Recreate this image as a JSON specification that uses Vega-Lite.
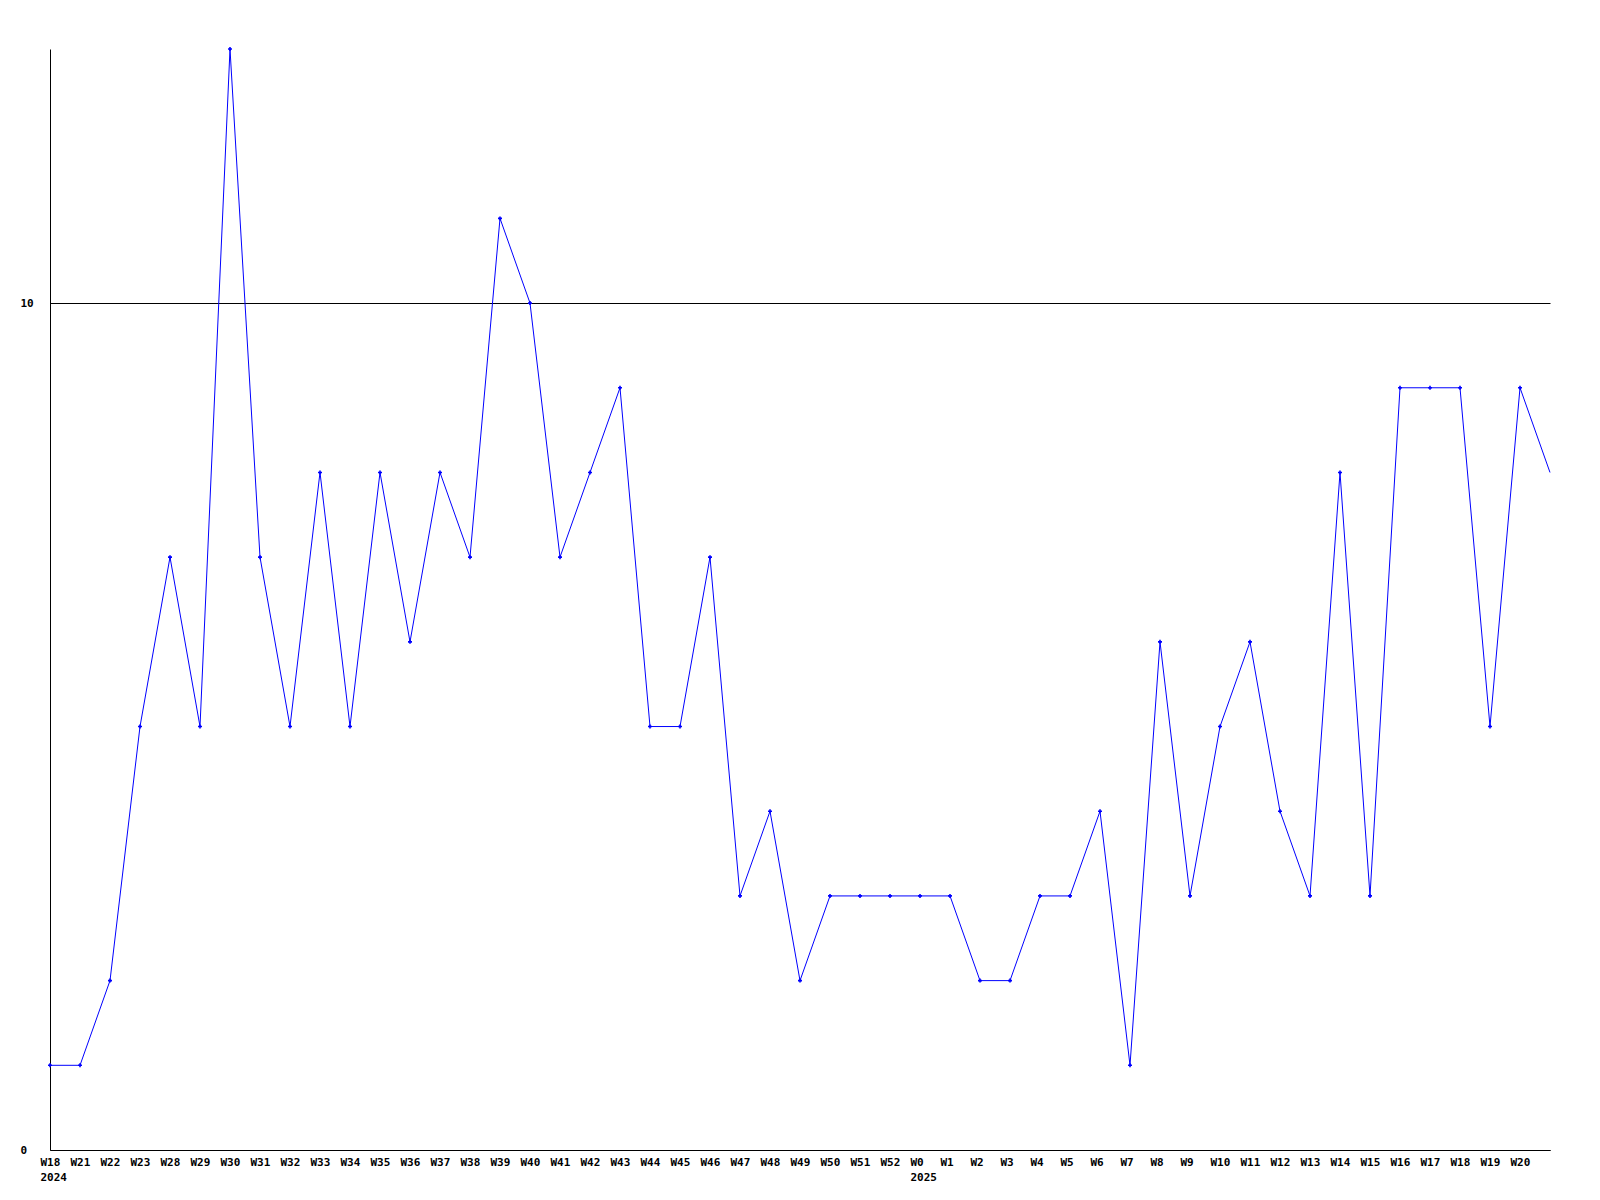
{
  "$schema": "https://vega.github.io/schema/vega-lite/v6.json",
  "width": 1500,
  "height": 1101,
  "autosize": {"type": "none"},
  "padding": {"left": 50, "top": 49, "right": 50, "bottom": 50},
  "background": "white",
  "config": {"view": {"stroke": null}},
  "data": {"values": [
    {"period": "2024-W18", "value": 1},
    {"period": "2024-W21", "value": 1},
    {"period": "2024-W22", "value": 2},
    {"period": "2024-W23", "value": 5},
    {"period": "2024-W28", "value": 7},
    {"period": "2024-W29", "value": 5},
    {"period": "2024-W30", "value": 13},
    {"period": "2024-W31", "value": 7},
    {"period": "2024-W32", "value": 5},
    {"period": "2024-W33", "value": 8},
    {"period": "2024-W34", "value": 5},
    {"period": "2024-W35", "value": 8},
    {"period": "2024-W36", "value": 6},
    {"period": "2024-W37", "value": 8},
    {"period": "2024-W38", "value": 7},
    {"period": "2024-W39", "value": 11},
    {"period": "2024-W40", "value": 10},
    {"period": "2024-W41", "value": 7},
    {"period": "2024-W42", "value": 8},
    {"period": "2024-W43", "value": 9},
    {"period": "2024-W44", "value": 5},
    {"period": "2024-W45", "value": 5},
    {"period": "2024-W46", "value": 7},
    {"period": "2024-W47", "value": 3},
    {"period": "2024-W48", "value": 4},
    {"period": "2024-W49", "value": 2},
    {"period": "2024-W50", "value": 3},
    {"period": "2024-W51", "value": 3},
    {"period": "2024-W52", "value": 3},
    {"period": "2025-W0", "value": 3},
    {"period": "2025-W1", "value": 3},
    {"period": "2025-W2", "value": 2},
    {"period": "2025-W3", "value": 2},
    {"period": "2025-W4", "value": 3},
    {"period": "2025-W5", "value": 3},
    {"period": "2025-W6", "value": 4},
    {"period": "2025-W7", "value": 1},
    {"period": "2025-W8", "value": 6},
    {"period": "2025-W9", "value": 3},
    {"period": "2025-W10", "value": 5},
    {"period": "2025-W11", "value": 6},
    {"period": "2025-W12", "value": 4},
    {"period": "2025-W13", "value": 3},
    {"period": "2025-W14", "value": 8},
    {"period": "2025-W15", "value": 3},
    {"period": "2025-W16", "value": 9},
    {"period": "2025-W17", "value": 9},
    {"period": "2025-W18", "value": 9},
    {"period": "2025-W19", "value": 5},
    {"period": "2025-W20", "value": 9},
    {"period": "2025-W21", "value": 8}
  ]},
  "encoding": {
    "x": {
      "field": "period", "type": "ordinal", "sort": null,
      "scale": {"type": "point", "padding": 0},
      "axis": {
        "title": null, "domain": true, "domainColor": "black", "domainWidth": 1,
        "ticks": false, "labelAngle": 0, "labelAlign": "left", "labelOffset": -10,
        "labelBaseline": "top", "labelPadding": 6, "labelLineHeight": 15,
        "labelFont": "DejaVu Sans Mono", "labelFontWeight": "bold", "labelFontSize": 11,
        "labelColor": "black", "labelOverlap": false, "labelBound": false, "labelFlush": false,
        "labelExpr": "datum.value == '2024-W18' ? ['W18', '2024'] : datum.value == '2025-W0' ? ['W0', '2025'] : datum.value == '2025-W21' ? '' : split(datum.value, '-')[1]"
      }
    },
    "y": {
      "field": "value", "type": "quantitative",
      "scale": {"domain": [0, 13], "nice": false, "zero": true},
      "axis": {
        "title": null, "values": [0, 10], "grid": true, "gridColor": "black", "gridOpacity": 1, "gridWidth": 1,
        "domain": true, "domainColor": "black", "domainWidth": 1, "ticks": false,
        "labelAlign": "left", "labelPadding": 30, "labelBaseline": "middle",
        "labelFont": "DejaVu Sans Mono", "labelFontWeight": "bold", "labelFontSize": 11,
        "labelColor": "black", "labelBound": false, "labelFlush": false
      }
    }
  },
  "layer": [
    {"mark": {"type": "line", "color": "#0000ff", "strokeWidth": 1}},
    {
      "transform": [{"filter": "datum.period != '2025-W21'"}],
      "mark": {"type": "point", "shape": "cross", "filled": true, "color": "#0000ff", "size": 16, "opacity": 1}
    }
  ]
}
